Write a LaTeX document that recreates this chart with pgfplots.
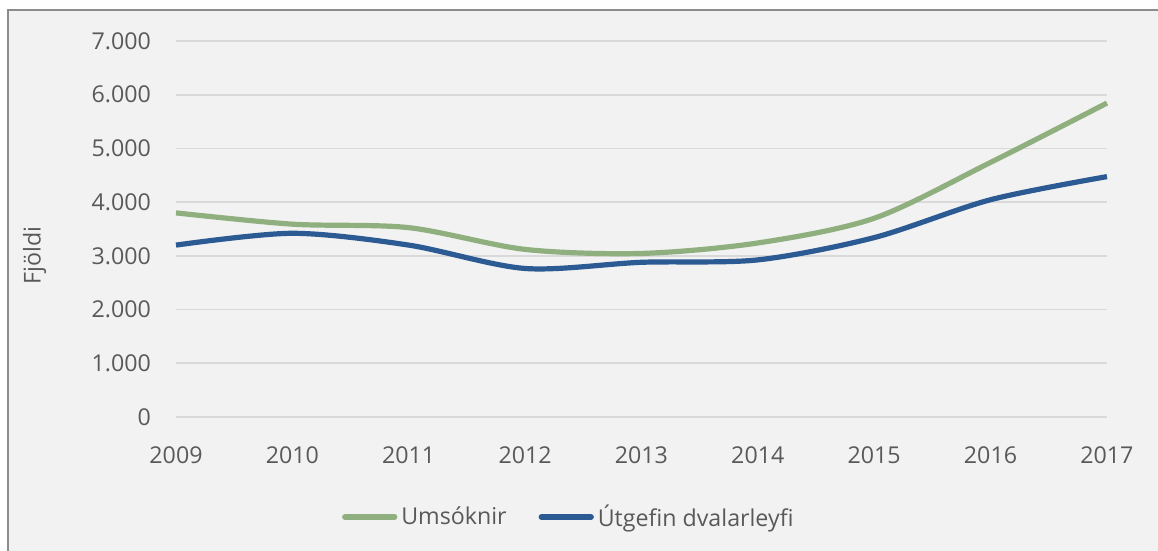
\documentclass[border=0pt]{standalone}
\usepackage{pgfplots}
\pgfplotsset{compat=1.18}
\usepackage{fontspec}
\setmainfont{Open Sans}
\definecolor{bgc}{HTML}{F2F2F2}
\definecolor{gridc}{HTML}{D9D9D9}
\definecolor{txtc}{HTML}{595959}
\definecolor{grn}{HTML}{8FB07E}
\definecolor{blu}{HTML}{2C5A92}
\definecolor{frm}{HTML}{8C8C8C}
\begin{document}
\begin{tikzpicture}
\useasboundingbox (0,0) rectangle (579pt,275.5pt);
\fill[white] (0,0) rectangle (579pt,275.5pt);
\draw[frm, line width=0.8pt, fill=bgc] (4pt,-5pt) rectangle (585pt,270.5pt);
\begin{axis}[
  at={(88pt,67pt)}, anchor=south west,
  scale only axis, width=465.5pt, height=188pt,
  xmin=2009, xmax=2017, ymin=0, ymax=7000,
  xtick={2009,...,2017},
  xticklabels={2009,2010,2011,2012,2013,2014,2015,2016,2017},
  ytick={0,1000,...,7000},
  yticklabels={0,1.000,2.000,3.000,4.000,5.000,6.000,7.000},
  axis line style={draw=none},
  axis x line*=bottom,
  axis y line*=left,
  tick style={draw=none},
  ymajorgrids, grid style={gridc, line width=0.8pt},
  font=\fontsize{11.6}{14}\selectfont,
  tick label style={txtc, font=\fontsize{11.6}{14}\selectfont},
  yticklabel style={xshift=-9pt},
  xticklabel style={yshift=-11.5pt},
  ylabel={Fjöldi},
  ylabel style={txtc, font=\fontsize{11.6}{14}\selectfont, at={(axis description cs:-0.152,0.43)}, anchor=center},
  legend columns=2,
  legend style={draw=none, fill=none, text=txtc, font=\fontsize{11.6}{14}\selectfont,
    at={(axis description cs:0.423,-0.266)}, anchor=center,
    /tikz/every even column/.append style={column sep=14pt}},
  legend image code/.code={\draw[#1, line cap=round] (0pt,0pt) -- (25pt,0pt);},
  clip=false,
]
\addplot[grn, line width=2.6pt, smooth, tension=0.5] coordinates {
 (2009,3800) (2010,3590) (2011,3525) (2012,3120) (2013,3045) (2014,3240) (2015,3700) (2016,4740) (2017,5845)};
\addlegendentry{Umsóknir}
\addplot[blu, line width=2.6pt, smooth, tension=0.5] coordinates {
 (2009,3200) (2010,3420) (2011,3200) (2012,2765) (2013,2880) (2014,2925) (2015,3340) (2016,4045) (2017,4475)};
\addlegendentry{Útgefin dvalarleyfi}
\end{axis}
\end{tikzpicture}
\end{document}
